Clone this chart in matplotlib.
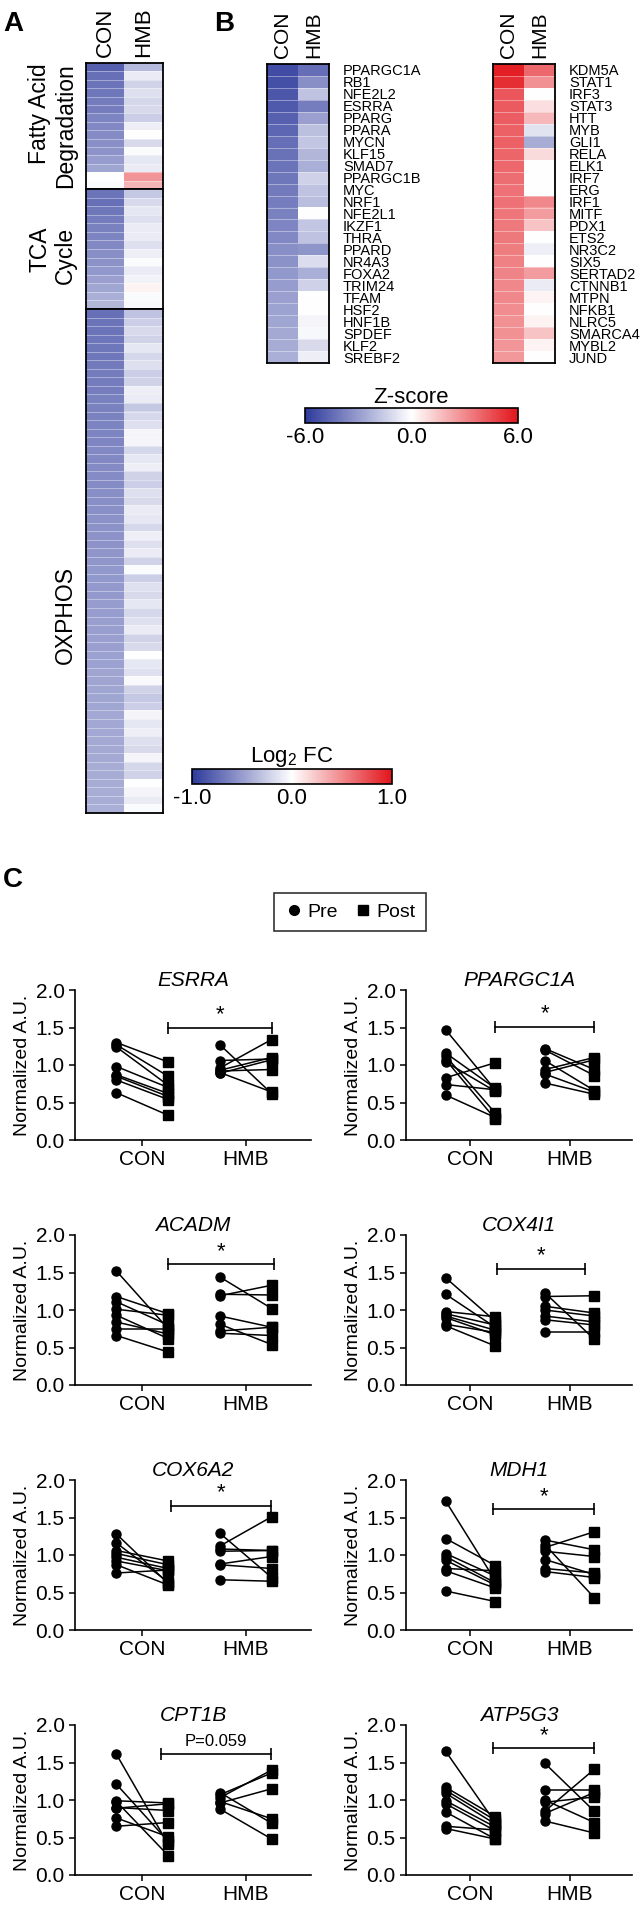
import numpy as np
import matplotlib
matplotlib.use('Agg')
import matplotlib.pyplot as plt
from matplotlib.colors import LinearSegmentedColormap, Normalize
from matplotlib.cm import ScalarMappable
from matplotlib.lines import Line2D

plt.rcParams['font.family'] = ['Liberation Sans', 'DejaVu Sans']
plt.rcParams['mathtext.fontset'] = 'custom'
plt.rcParams['mathtext.rm'] = 'Liberation Sans'

# ---- panel A: log2 FC heatmap (CON, HMB) ----
groups = ['CON', 'HMB']
fa_con = [-0.80, -0.72, -0.70, -0.68, -0.66, -0.65, -0.62, -0.60, -0.58, -0.56,
          -0.54, -0.50, -0.45, 0.00, -0.02]
fa_hmb = [-0.35, -0.10, -0.22, -0.15, -0.20, -0.18, -0.25, -0.08, 0.00, -0.18,
          -0.02, -0.12, -0.10, 0.45, 0.32]
tca_con = [-0.70, -0.72, -0.68, -0.66, -0.64, -0.62, -0.60, -0.57, -0.55, -0.52,
           -0.48, -0.45, -0.40, -0.36]
tca_hmb = [-0.28, -0.18, -0.12, -0.15, -0.10, -0.10, -0.15, -0.08, -0.02, -0.10,
           -0.06, 0.05, -0.02, -0.03]
ox_con = [-0.72, -0.70, -0.70, -0.69, -0.68, -0.68, -0.67, -0.66, -0.66, -0.65,
          -0.64, -0.64, -0.63, -0.62, -0.62, -0.61, -0.60, -0.60, -0.59, -0.58,
          -0.58, -0.57, -0.57, -0.56, -0.55, -0.55, -0.54, -0.54, -0.53, -0.53,
          -0.52, -0.52, -0.51, -0.51, -0.50, -0.50, -0.49, -0.49, -0.48, -0.48,
          -0.47, -0.47, -0.46, -0.46, -0.45, -0.45, -0.45, -0.44, -0.44, -0.44,
          -0.43, -0.43, -0.43, -0.42, -0.42, -0.42, -0.41, -0.41, -0.40]
ox_hmb = [-0.30, -0.25, -0.18, -0.22, -0.12, -0.20, -0.15, -0.25, -0.22, -0.08,
          -0.10, -0.28, -0.20, -0.15, -0.05, -0.05, -0.20, -0.12, -0.08, -0.22,
          -0.25, -0.15, -0.18, -0.10, -0.12, -0.20, -0.08, -0.15, -0.10, -0.22,
          -0.02, -0.25, -0.15, -0.18, -0.12, -0.20, -0.15, -0.10, -0.22, -0.18,
          0.00, -0.12, -0.15, -0.03, -0.22, -0.28, -0.25, -0.05, -0.12, -0.08,
          -0.15, -0.18, -0.05, -0.20, -0.22, 0.00, -0.05, -0.10, -0.02]
section_names = ['Fatty Acid\nDegradation', 'TCA\nCycle', 'OXPHOS']

# ---- panel B: upstream regulator z-scores ----
inhib_genes = ['PPARGC1A', 'RB1', 'NFE2L2', 'ESRRA', 'PPARG', 'PPARA', 'MYCN', 'KLF15',
               'SMAD7', 'PPARGC1B', 'MYC', 'NRF1', 'NFE2L1', 'IKZF1', 'THRA', 'PPARD',
               'NR4A3', 'FOXA2', 'TRIM24', 'TFAM', 'HSF2', 'HNF1B', 'SPDEF', 'KLF2', 'SREBF2']
inhib_con = [-5.4, -5.3, -5.1, -5.0, -4.8, -4.6, -4.4, -4.3, -4.2, -4.1, -4.0, -3.9, -3.8,
             -3.7, -3.6, -3.4, -3.3, -3.1, -3.0, -2.9, -2.8, -2.7, -2.6, -2.5, -2.4]
inhib_hmb = [-4.4, -3.4, -1.8, -3.9, -2.9, -1.9, -1.7, -2.2, -2.4, -1.4, -1.8, -2.0, 0.0,
             -1.7, -1.8, -3.2, -1.0, -2.4, -1.4, 0.0, 0.0, -0.3, -0.2, -1.1, -0.5]
act_genes = ['KDM5A', 'STAT1', 'IRF3', 'STAT3', 'HTT', 'MYB', 'GLI1', 'RELA', 'ELK1', 'IRF7',
             'ERG', 'IRF1', 'MITF', 'PDX1', 'ETS2', 'NR3C2', 'SIX5', 'SERTAD2', 'CTNNB1',
             'MTPN', 'NFKB1', 'NLRC5', 'SMARCA4', 'MYBL2', 'JUND']
act_con = [5.7, 5.3, 4.3, 4.2, 4.1, 4.0, 4.0, 3.9, 3.8, 3.7, 3.6, 3.6, 3.5, 3.4, 3.4,
           3.3, 3.2, 3.1, 3.0, 3.0, 2.9, 2.8, 2.8, 2.7, 2.6]
act_hmb = [3.8, 2.8, 0.0, 0.8, 1.8, -0.8, -2.5, 0.9, 0.0, 0.0, 0.0, 3.0, 2.5, 1.5, 0.0,
           -0.5, 0.0, 2.5, -0.6, 0.3, 0.0, 0.3, 1.5, 0.3, 0.0]

# ---- panel C: qPCR pre/post ----
esrra_con_pre = [1.30, 1.27, 1.24, 0.98, 0.87, 0.85, 0.80, 0.63]
esrra_con_post = [1.04, 0.85, 0.73, 0.70, 0.62, 0.58, 0.54, 0.33]
esrra_hmb_pre = [1.27, 1.06, 0.96, 0.93, 0.92, 0.90, 0.89]
esrra_hmb_post = [0.62, 1.08, 1.34, 1.10, 0.94, 0.64, 1.07]

ppargc1a_con_pre = [1.47, 1.16, 1.12, 1.07, 1.04, 0.83, 0.74, 0.60]
ppargc1a_con_post = [0.67, 0.69, 0.36, 0.28, 0.65, 1.03, 0.67, 0.30]
ppargc1a_hmb_pre = [1.22, 1.20, 1.06, 0.94, 0.90, 0.88, 0.76]
ppargc1a_hmb_post = [0.94, 0.86, 0.66, 1.10, 1.07, 0.64, 0.61]

acadm_con_pre = [1.52, 1.18, 1.11, 1.01, 0.93, 0.84, 0.75, 0.66]
acadm_con_post = [0.75, 0.95, 0.80, 0.93, 0.62, 0.68, 0.75, 0.44]
acadm_hmb_pre = [1.44, 1.21, 1.19, 0.92, 0.81, 0.72, 0.69]
acadm_hmb_post = [1.02, 1.20, 1.33, 0.77, 0.54, 0.77, 0.66]

cox4i1_con_pre = [1.43, 1.21, 0.98, 0.95, 0.92, 0.90, 0.81, 0.79]
cox4i1_con_post = [0.85, 0.77, 0.91, 0.80, 0.73, 0.67, 0.70, 0.52]
cox4i1_hmb_pre = [1.23, 1.18, 1.05, 1.00, 0.92, 0.87, 0.71]
cox4i1_hmb_post = [0.61, 1.19, 0.96, 0.92, 0.84, 0.80, 0.71]

cox6a2_con_pre = [1.28, 1.16, 1.06, 1.02, 0.97, 0.92, 0.87, 0.76]
cox6a2_con_post = [0.62, 0.64, 0.92, 0.87, 0.82, 0.79, 0.60, 0.80]
cox6a2_hmb_pre = [1.29, 1.12, 1.08, 1.05, 0.88, 0.87, 0.67]
cox6a2_hmb_post = [0.70, 1.51, 1.06, 1.06, 0.98, 0.82, 0.65]

mdh1_con_pre = [1.72, 1.22, 1.02, 0.98, 0.93, 0.82, 0.79, 0.52]
mdh1_con_post = [0.66, 0.86, 0.72, 0.63, 0.60, 0.79, 0.56, 0.38]
mdh1_hmb_pre = [1.20, 1.14, 1.10, 1.05, 0.94, 0.82, 0.78]
mdh1_hmb_post = [1.07, 0.43, 1.31, 0.98, 0.74, 0.76, 0.70]

cpt1b_con_pre = [1.61, 1.21, 0.99, 0.98, 0.90, 0.89, 0.76, 0.65]
cpt1b_con_post = [0.41, 0.45, 0.96, 0.26, 0.86, 0.95, 0.51, 0.70]
cpt1b_hmb_pre = [1.10, 1.07, 1.03, 0.98, 0.96, 0.88]
cpt1b_hmb_post = [0.69, 1.36, 1.40, 0.75, 1.15, 0.48]

atp5g3_con_pre = [1.65, 1.17, 1.13, 1.09, 0.99, 0.95, 0.84, 0.65, 0.62]
atp5g3_con_post = [0.70, 0.78, 0.73, 0.68, 0.64, 0.59, 0.48, 0.60, 0.48]
atp5g3_hmb_pre = [1.49, 1.13, 1.00, 0.97, 0.85, 0.82, 0.72]
atp5g3_hmb_post = [0.85, 1.13, 0.70, 1.04, 1.41, 1.10, 0.56]

qpcr_genes = ['ESRRA', 'PPARGC1A', 'ACADM', 'COX4I1', 'COX6A2', 'MDH1', 'CPT1B', 'ATP5G3']
sig_labels = ['*', '*', '*', '*', '*', '*', 'P=0.059', '*']
sig_y = [1.50, 1.51, 1.61, 1.55, 1.66, 1.61, 1.62, 1.69]
sig_x0 = [1.0, 1.0, 1.0, 1.04, 1.06, 0.95, 0.86, 0.96]
sig_x1 = [3.0, 3.0, 3.04, 2.82, 2.98, 3.0, 2.98, 3.0]

qpcr_sets = [
    (esrra_con_pre, esrra_con_post, esrra_hmb_pre, esrra_hmb_post),
    (ppargc1a_con_pre, ppargc1a_con_post, ppargc1a_hmb_pre, ppargc1a_hmb_post),
    (acadm_con_pre, acadm_con_post, acadm_hmb_pre, acadm_hmb_post),
    (cox4i1_con_pre, cox4i1_con_post, cox4i1_hmb_pre, cox4i1_hmb_post),
    (cox6a2_con_pre, cox6a2_con_post, cox6a2_hmb_pre, cox6a2_hmb_post),
    (mdh1_con_pre, mdh1_con_post, mdh1_hmb_pre, mdh1_hmb_post),
    (cpt1b_con_pre, cpt1b_con_post, cpt1b_hmb_pre, cpt1b_hmb_post),
    (atp5g3_con_pre, atp5g3_con_post, atp5g3_hmb_pre, atp5g3_hmb_post),
]

# ---- layout in pixels ----
W, H = 641, 1916
fig = plt.figure(figsize=(W / 100, H / 100), dpi=100)


def box(x0, y0, x1, y1):
    return [x0 / W, 1 - y1 / H, (x1 - x0) / W, (y1 - y0) / H]


def fy(y):
    return 1 - y / H


cmap = LinearSegmentedColormap.from_list('fc', ['#2E3A9C', '#FFFFFF', '#E2141B'])


def heat(ax, con, hmb, vmax):
    data = np.column_stack([con, hmb])
    ax.imshow(data, cmap=cmap, vmin=-vmax, vmax=vmax, aspect='auto',
              interpolation='nearest')
    n = len(con)
    ax.hlines(np.arange(0.5, n - 0.5), -0.5, 1.5, colors='white',
              linewidth=0.6, alpha=0.45)
    ax.set_xticks([])
    ax.set_yticks([])
    for s in ax.spines.values():
        s.set_linewidth(1.3)


# panel A
sections = [(fa_con, fa_hmb, 63, 189, 126), (tca_con, tca_hmb, 189, 309, 255),
            (ox_con, ox_hmb, 309, 813, 615)]
for i, (con, hmb, y0, y1, yc) in enumerate(sections):
    ax = fig.add_axes(box(86, y0, 163, y1))
    heat(ax, con, hmb, 1.0)
    if i == 0:
        ax.xaxis.tick_top()
        ax.set_xticks([0, 1])
        ax.set_xticklabels(groups, rotation=90, fontsize=16)
        ax.tick_params(axis='x', length=0, pad=4)
    fig.text(77 / W, fy(yc), section_names[i], rotation=90, ha='right',
             va='center', fontsize=16.5, linespacing=1.15)

# panel B
for genes, con, hmb, x0 in [(inhib_genes, inhib_con, inhib_hmb, 267),
                            (act_genes, act_con, act_hmb, 493)]:
    ax = fig.add_axes(box(x0, 64, x0 + 62, 363))
    heat(ax, con, hmb, 6.0)
    ax.xaxis.tick_top()
    ax.set_xticks([0, 1])
    ax.set_xticklabels(groups, rotation=90, fontsize=15)
    ax.yaxis.tick_right()
    ax.set_yticks(range(len(genes)))
    ax.set_yticklabels(genes, fontsize=10.5)
    ax.tick_params(length=0)
    ax.tick_params(axis='y', pad=10)
    ax.tick_params(axis='x', pad=4)

# colorbars
for (x0, y0, x1, y1), vmax, title in [((305, 408, 518, 423), 6.0, 'Z-score'),
                                      ((192, 769, 392, 784), 1.0, 'Log$_2$ FC')]:
    cax = fig.add_axes(box(x0, y0, x1, y1))
    cb = fig.colorbar(ScalarMappable(norm=Normalize(-vmax, vmax), cmap=cmap),
                      cax=cax, orientation='horizontal', ticks=[-vmax, 0, vmax])
    cb.ax.set_xticklabels([f'{-vmax:.1f}', '0.0', f'{vmax:.1f}'], fontsize=16)
    cb.ax.tick_params(length=0, pad=3)
    cb.outline.set_linewidth(1.2)
    cax.set_title(title, fontsize=16, pad=3)

# panel labels
fig.text(3 / W, fy(24), 'A', fontsize=20, fontweight='bold', va='center')
fig.text(214 / W, fy(24), 'B', fontsize=20, fontweight='bold', va='center')
fig.text(3 / W, fy(880), 'C', fontsize=20, fontweight='bold', va='center')

# legend for panel C
handles = [Line2D([], [], marker='o', color='k', linestyle='none', markersize=7),
           Line2D([], [], marker='s', color='k', linestyle='none', markersize=7)]
leg = fig.legend(handles, ['Pre', 'Post'], loc='center', bbox_to_anchor=(350 / W, fy(912)),
                 ncol=2, fontsize=14, frameon=True, fancybox=False, edgecolor='black',
                 handletextpad=0.2, columnspacing=0.8, borderpad=0.5, handlelength=1.0)
leg.get_frame().set_linewidth(1.2)

# panel C plots
rows = [(990, 1140), (1235, 1385), (1480, 1630), (1725, 1875)]
cols = [(75, 311), (406, 632)]
for k, (gene, data) in enumerate(zip(qpcr_genes, qpcr_sets)):
    r, c = divmod(k, 2)
    ax = fig.add_axes(box(cols[c][0], rows[r][0], cols[c][1], rows[r][1]))
    con_pre, con_post, hmb_pre, hmb_post = data
    for xa, pre, post in [(0, con_pre, con_post), (2, hmb_pre, hmb_post)]:
        for a, b in zip(pre, post):
            ax.plot([xa, xa + 1], [a, b], color='k', lw=1.1, zorder=2)
        ax.plot(np.full(len(pre), xa), pre, 'o', color='k', ms=6.5, zorder=3,
                clip_on=False)
        ax.plot(np.full(len(post), xa + 1), post, 's', color='k', ms=6.5, zorder=3,
                clip_on=False)
    ax.plot([sig_x0[k], sig_x1[k]], [sig_y[k], sig_y[k]], color='k', lw=1.2,
            marker='|', ms=9, mew=1.2)
    if sig_labels[k] == '*':
        ax.text((sig_x0[k] + sig_x1[k]) / 2, sig_y[k] + 0.03, '*', ha='center',
                va='bottom', fontsize=16)
    else:
        ax.text((sig_x0[k] + sig_x1[k]) / 2, sig_y[k] + 0.06, sig_labels[k],
                ha='center', va='bottom', fontsize=12)
    ax.set_xlim(-0.8, 3.76)
    ax.set_ylim(0, 2.0)
    ax.set_yticks([0, 0.5, 1.0, 1.5, 2.0])
    ax.set_yticklabels(['0.0', '0.5', '1.0', '1.5', '2.0'], fontsize=15)
    ax.set_xticks([0.5, 2.5])
    ax.set_xticklabels(groups, fontsize=15)
    ax.tick_params(length=4, width=1.1)
    ax.set_ylabel('Normalized A.U.', fontsize=14, labelpad=3)
    ax.set_title(gene, fontstyle='italic', fontsize=15, pad=3)
    for side in ['top', 'right']:
        ax.spines[side].set_visible(False)
    for side in ['left', 'bottom']:
        ax.spines[side].set_linewidth(1.2)

fig.savefig('out.png', dpi=100)
